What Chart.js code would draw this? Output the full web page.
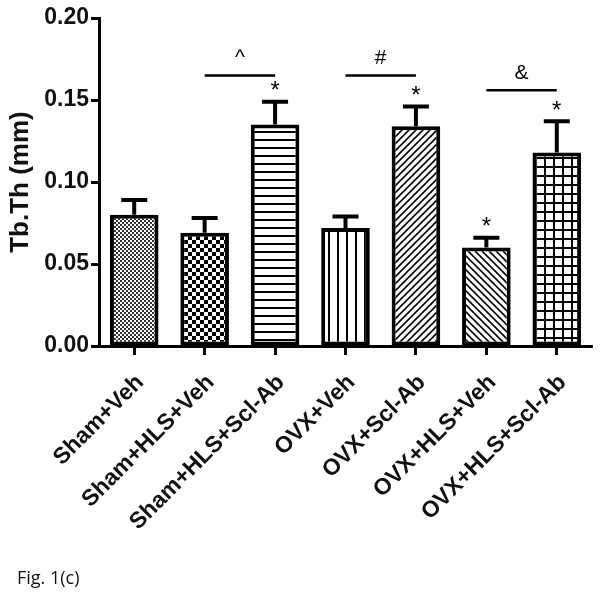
<!DOCTYPE html>
<html lang="en">
<head>
  <meta charset="UTF-8">
  <title>Tb.Th</title>
  <script src="https://cdn.jsdelivr.net/npm/chart.js"></script>
  <style>
    body {
      margin: 0;
      background: #fff;
    }
    .wrap {
      position: relative;
      width: 602px;
      height: 594px;
    }
    .caption {
      position: absolute;
      left: 17px;
      top: 565px;
      font-family: "Open Sans", sans-serif;
      font-size: 18px;
      color: #111;
    }
  </style>
</head>
<body>
  <div class="wrap">
    <canvas id="chart" width="602" height="594"></canvas>
    <div class="caption">Fig. 1(c)</div>
  </div>

  <script>
    const categories = ["Sham+Veh", "Sham+HLS+Veh", "Sham+HLS+Scl-Ab", "OVX+Veh", "OVX+Scl-Ab", "OVX+HLS+Veh", "OVX+HLS+Scl-Ab"];
    const means = [0.080, 0.069, 0.135, 0.072, 0.134, 0.060, 0.118];
    const sems = [0.009, 0.009, 0.014, 0.007, 0.012, 0.006, 0.019];
    const starred = [false, false, true, false, true, true, true];

    // significance brackets between group pairs
    const bracketFrom = [1, 3, 5];
    const bracketTo = [2, 4, 6];
    const bracketLevel = [0.165, 0.165, 0.156];
    const bracketSymbol = ["^", "#", "&"];

    const yTicks = [0, 0.05, 0.10, 0.15, 0.20];

    function tile(size, draw) {
      const c = document.createElement("canvas");
      c.width = size; c.height = size;
      const g = c.getContext("2d");
      g.fillStyle = "#fff";
      g.fillRect(0, 0, size, size);
      g.fillStyle = "#000";
      g.strokeStyle = "#000";
      draw(g, size);
      return document.getElementById("chart").getContext("2d").createPattern(c, "repeat");
    }

    const patterns = [
      // fine checker
      tile(4, (g, s) => { g.fillStyle = "#333"; g.fillRect(0, 0, 2, 2); g.fillRect(2, 2, 2, 2); }),
      // coarser checker
      tile(8, (g, s) => { g.fillRect(0, 0, 4, 4); g.fillRect(4, 4, 4, 4); }),
      // horizontal lines
      tile(8, (g, s) => { g.fillRect(0, 3, s, 2); }),
      // vertical lines
      tile(9, (g, s) => { g.fillRect(4, 0, 2, s); }),
      // diagonal /
      tile(7, (g, s) => {
        g.lineWidth = 1.6;
        g.beginPath();
        g.moveTo(0, s); g.lineTo(s, 0);
        g.moveTo(-1, 1); g.lineTo(1, -1);
        g.moveTo(s - 1, s + 1); g.lineTo(s + 1, s - 1);
        g.stroke();
      }),
      // diagonal \
      tile(7, (g, s) => {
        g.lineWidth = 1.6;
        g.beginPath();
        g.moveTo(0, 0); g.lineTo(s, s);
        g.moveTo(-1, s - 1); g.lineTo(1, s + 1);
        g.moveTo(s - 1, -1); g.lineTo(s + 1, 1);
        g.stroke();
      }),
      // grid
      tile(9, (g, s) => { g.fillRect(0, 4, s, 2); g.fillRect(4, 0, 2, s); })
    ];

    const extras = {
      id: "extras",
      afterDatasetsDraw(chart) {
        const ctx = chart.ctx;
        const y = chart.scales.y;
        const bars = chart.getDatasetMeta(0).data;
        ctx.save();
        ctx.strokeStyle = "#000";
        ctx.fillStyle = "#000";
        ctx.textAlign = "center";
        ctx.textBaseline = "middle";
        bars.forEach((bar, i) => {
          const top = y.getPixelForValue(means[i]);
          const cap = y.getPixelForValue(means[i] + sems[i]);
          ctx.lineWidth = 4;
          ctx.beginPath();
          ctx.moveTo(bar.x, top);
          ctx.lineTo(bar.x, cap);
          ctx.moveTo(bar.x - 13, cap);
          ctx.lineTo(bar.x + 13, cap);
          ctx.stroke();
          if (starred[i]) {
            ctx.font = "24px 'Liberation Sans', sans-serif";
            ctx.fillText("*", bar.x, cap - 10);
          }
        });
        bracketFrom.forEach((f, k) => {
          const x1 = bars[f].x, x2 = bars[bracketTo[k]].x;
          const ly = y.getPixelForValue(bracketLevel[k]);
          ctx.lineWidth = 2.5;
          ctx.beginPath();
          ctx.moveTo(x1, ly);
          ctx.lineTo(x2, ly);
          ctx.stroke();
          ctx.font = "21px 'Liberation Sans', sans-serif";
          ctx.fillText(bracketSymbol[k], (x1 + x2) / 2, ly - 17);
        });
        ctx.restore();
      }
    };

    new Chart(document.getElementById("chart"), {
      type: "bar",
      data: {
        labels: categories,
        datasets: [{
          data: means,
          backgroundColor: patterns,
          borderColor: "#000",
          borderWidth: 4,
          borderSkipped: false,
          barPercentage: 0.69,
          categoryPercentage: 1.0
        }]
      },
      options: {
        responsive: false,
        animation: false,
        events: [],
        layout: { padding: { left: 0, top: 18, right: 10, bottom: 0 } },
        plugins: {
          legend: { display: false },
          tooltip: { enabled: false }
        },
        scales: {
          x: {
            afterFit(scale) { scale.height = 248; },
            grid: { offset: false, drawOnChartArea: false, drawTicks: true, tickLength: 9, tickWidth: 3, color: "#000" },
            border: { display: true, width: 3, color: "#000" },
            ticks: {
              color: "#111",
              maxRotation: 45,
              minRotation: 45,
              padding: 14,
              labelOffset: 6,
              font: { family: "'Liberation Sans', Arial, sans-serif", size: 23, weight: "bold" }
            }
          },
          y: {
            min: 0,
            max: 0.2,
            afterFit(scale) { scale.width = 99; },
            afterBuildTicks(scale) { scale.ticks = yTicks.map(v => ({ value: v })); },
            grid: { drawOnChartArea: false, drawTicks: true, tickLength: 8, tickWidth: 3, color: "#000" },
            border: { display: true, width: 3, color: "#000" },
            ticks: {
              color: "#111",
              padding: 2,
              callback: v => Number(v).toFixed(2),
              font: { family: "'Liberation Sans', Arial, sans-serif", size: 23, weight: "bold" }
            },
            title: {
              display: true,
              text: "Tb.Th (mm)",
              color: "#111",
              padding: { top: 5, bottom: 2 },
              font: { family: "'Liberation Sans', Arial, sans-serif", size: 26, weight: "bold" }
            }
          }
        }
      },
      plugins: [extras]
    });
  </script>
</body>
</html>
